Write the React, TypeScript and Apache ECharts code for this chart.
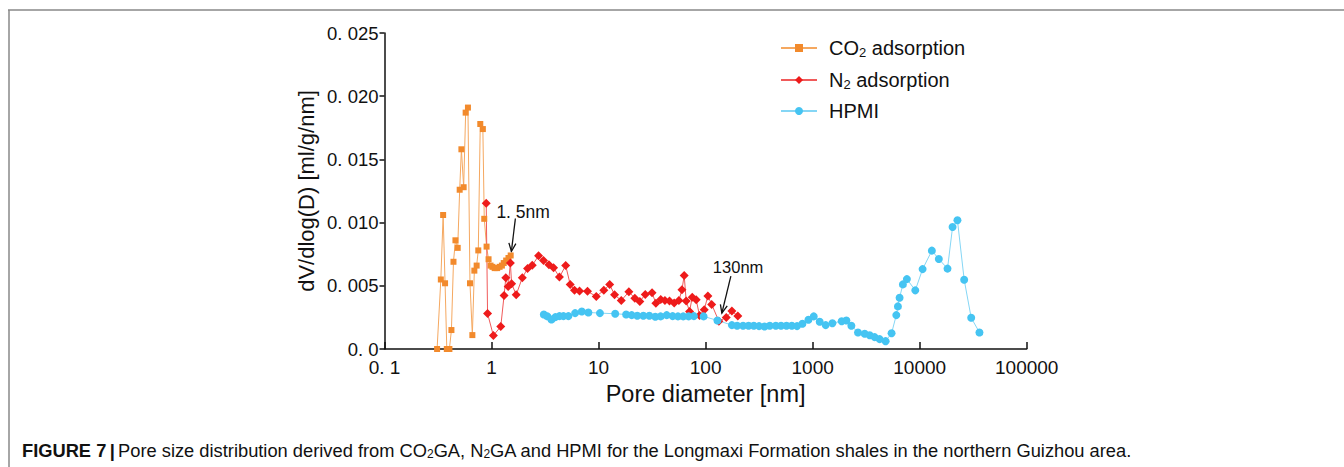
import React, { useEffect, useRef } from "react";
import * as echarts from "echarts";

// CO2 adsorption: pore diameter (nm), dV/dlog(D)
const co2X = [0.31, 0.336, 0.353, 0.368, 0.382, 0.404, 0.422, 0.441, 0.46, 0.483, 0.504, 0.523, 0.549, 0.573, 0.602, 0.629, 0.662, 0.691, 0.726, 0.752, 0.785, 0.83, 0.855, 0.899, 0.938, 0.979, 1.02, 1.07, 1.13, 1.19, 1.25, 1.3, 1.37, 1.44, 1.51];
const co2Y = [0, 0.0055, 0.0106, 0.0052, 0, 0, 0.0015, 0.0069, 0.0086, 0.008, 0.0126, 0.0158, 0.0128, 0.0187, 0.0191, 0.0052, 0.0011, 0.0062, 0.0066, 0.0078, 0.0178, 0.0174, 0.0103, 0.0081, 0.0071, 0.0066, 0.0065, 0.0064, 0.0064, 0.0065, 0.0066, 0.0068, 0.007, 0.0072, 0.0074];

// N2 adsorption
const n2X = [0.892, 0.918, 1.04, 1.22, 1.31, 1.36, 1.43, 1.5, 1.54, 1.7, 1.94, 2.17, 2.4, 2.75, 3.06, 3.44, 3.8, 4.31, 4.93, 5.43, 5.96, 6.64, 7.88, 9.51, 11.2, 12.7, 14.1, 16.3, 19.2, 21.8, 24.3, 27.3, 31.6, 34.3, 38.1, 41.7, 46.0, 50.9, 56.3, 60.1, 63.1, 65.9, 70.8, 75.0, 81.7, 87.7, 97.1, 105, 114, 133, 156, 176, 200];
const n2Y = [0.01153, 0.00281, 0.00107, 0.00178, 0.00424, 0.00564, 0.00495, 0.0068, 0.00517, 0.00429, 0.00564, 0.00636, 0.00662, 0.00737, 0.00701, 0.00667, 0.00643, 0.00569, 0.0066, 0.00511, 0.00464, 0.00458, 0.00456, 0.00416, 0.00464, 0.0051, 0.00429, 0.00384, 0.00452, 0.00402, 0.00375, 0.00432, 0.00445, 0.00361, 0.00392, 0.00384, 0.00379, 0.00363, 0.00384, 0.00468, 0.00582, 0.00379, 0.00297, 0.0041, 0.0039, 0.00265, 0.00311, 0.0042, 0.00353, 0.0022, 0.0025, 0.003, 0.00261];

// HPMI
const hpmiX = [3.08, 3.33, 3.63, 3.95, 4.31, 4.7, 5.23, 6.04, 6.97, 8.03, 10.3, 14.3, 18.1, 20.4, 23.0, 26.2, 29.8, 33.9, 38.0, 43.3, 49.2, 55.2, 61.8, 69.4, 77.8, 95.8, 129, 176, 197, 224, 252, 282, 316, 355, 398, 453, 507, 570, 639, 715, 803, 914, 1024, 1164, 1324, 1530, 1868, 2066, 2301, 2653, 3064, 3411, 3796, 4226, 4805, 5466, 6050, 6264, 6491, 6970, 7597, 9100, 10650, 13000, 15100, 18200, 20300, 22550, 26050, 30300, 36200];
const hpmiY = [0.00273, 0.00258, 0.00234, 0.00252, 0.0026, 0.0026, 0.0026, 0.00284, 0.00297, 0.00289, 0.00284, 0.00279, 0.00273, 0.00268, 0.00263, 0.00263, 0.00263, 0.00255, 0.00258, 0.00268, 0.0026, 0.00258, 0.00258, 0.00258, 0.0026, 0.00258, 0.00226, 0.00189, 0.00184, 0.00184, 0.00184, 0.00184, 0.00181, 0.00178, 0.00184, 0.00184, 0.00184, 0.00184, 0.00184, 0.00181, 0.002, 0.00231, 0.00258, 0.00216, 0.00189, 0.00204, 0.0022, 0.00226, 0.00184, 0.00131, 0.0012, 0.00109, 0.00094, 0.00078, 0.00062, 0.00125, 0.00268, 0.00337, 0.00406, 0.00511, 0.00553, 0.00464, 0.00632, 0.00778, 0.00712, 0.00636, 0.00965, 0.01018, 0.00548, 0.00247, 0.00131];

const xMin = 0.1;
const xMax = 100000;
const yMin = 0;
const yMax = 0.025;
const yStep = 0.005;

const FONT = "'Liberation Sans', Arial, sans-serif";

export default function App() {
  const ref = useRef<HTMLDivElement>(null);
  useEffect(() => {
    const chart = echarts.init(ref.current!, null, { renderer: "svg" });
    const legendFmt = (name: string) => {
      if (name === "CO2 adsorption") return "{n|CO}{s|2}{n| adsorption}";
      if (name === "N2 adsorption") return "{n|N}{s|2}{n| adsorption}";
      return "{n|" + name + "}";
    };
    chart.setOption({
      animation: false,
      backgroundColor: "#fff",
      grid: { left: 384.5, right: 317.3, top: 33, bottom: 118, containLabel: false },
      legend: {
        orient: "vertical",
        left: 775,
        top: 32,
        itemWidth: 36,
        itemHeight: 10,
        itemGap: 10,
        formatter: legendFmt,
        textStyle: {
          fontFamily: FONT,
          color: "#111",
          padding: [0, 0, 0, 7],
          rich: {
            n: { fontSize: 20, fontFamily: FONT, color: "#111", lineHeight: 22 },
            s: { fontSize: 13, fontFamily: FONT, color: "#111", verticalAlign: "bottom", lineHeight: 22, padding: [9, 0, 0, 0] },
          },
        },
      },
      xAxis: {
        type: "log",
        logBase: 10,
        min: xMin,
        max: xMax,
        name: "Pore diameter [nm]",
        nameLocation: "middle",
        nameGap: 31,
        nameTextStyle: { fontFamily: FONT, fontSize: 23.5, color: "#111" },
        axisLine: { lineStyle: { color: "#111", width: 1.5 } },
        axisTick: { inside: true, length: 7, lineStyle: { color: "#111", width: 1.5 } },
        minorTick: { show: false },
        splitLine: { show: false },
        axisLabel: {
          margin: 9,
          fontFamily: FONT,
          fontSize: 19,
          color: "#111",
          formatter: (v: number) => (v < 1 ? "0. 1" : String(Math.round(v))),
        },
      },
      yAxis: {
        type: "value",
        min: yMin,
        max: yMax,
        interval: yStep,
        name: "dV/dlog(D) [ml/g/nm]",
        nameLocation: "middle",
        nameGap: 67,
        nameTextStyle: { fontFamily: FONT, fontSize: 22, color: "#111" },
        axisLine: { show: true, lineStyle: { color: "#111", width: 1.5 } },
        axisTick: { show: true, inside: false, length: 5, lineStyle: { color: "#111", width: 1.5 } },
        splitLine: { show: false },
        axisLabel: {
          margin: 6,
          fontFamily: FONT,
          fontSize: 18.5,
          color: "#111",
          formatter: (v: number) => {
            const k = Math.round(v * 1000);
            return k === 0 ? "0. 0" : "0. " + String(k).padStart(3, "0");
          },
        },
      },
      series: [
        {
          type: "line",
          name: "CO2 adsorption",
          data: co2X.map((x, i) => [x, co2Y[i]]),
          symbol: "rect",
          symbolSize: 6,
          itemStyle: { color: "#F28A2C" },
          lineStyle: { color: "#F5A860", width: 1 },
        },
        {
          type: "line",
          name: "N2 adsorption",
          data: n2X.map((x, i) => [x, n2Y[i]]),
          symbol: "diamond",
          symbolSize: 9,
          itemStyle: { color: "#EE1B1B" },
          lineStyle: { color: "#F05A5A", width: 1 },
        },
        {
          type: "line",
          name: "HPMI",
          data: hpmiX.map((x, i) => [x, hpmiY[i]]),
          symbol: "circle",
          symbolSize: 8,
          itemStyle: { color: "#45C4F2" },
          lineStyle: { color: "#85D6F5", width: 1 },
        },
      ],
    });

    const arrow = (hx: number, hy: number, tx: number, ty: number) => {
      const dx = tx - hx;
      const dy = ty - hy;
      const len = Math.sqrt(dx * dx + dy * dy);
      const ux = dx / len;
      const uy = dy / len;
      const a = 0.4;
      const L = 9;
      const r1 = [hx + L * (ux * Math.cos(a) - uy * Math.sin(a)), hy + L * (ux * Math.sin(a) + uy * Math.cos(a))];
      const r2 = [hx + L * (ux * Math.cos(-a) - uy * Math.sin(-a)), hy + L * (ux * Math.sin(-a) + uy * Math.cos(-a))];
      return [
        { type: "line", shape: { x1: tx, y1: ty, x2: hx, y2: hy }, style: { stroke: "#111", lineWidth: 1.3 }, silent: true },
        { type: "polyline", shape: { points: [r1, [hx, hy], r2] }, style: { stroke: "#111", lineWidth: 1.3, fill: null }, silent: true },
      ];
    };

    const p1 = chart.convertToPixel({ gridIndex: 0 }, [1.5, 0.0074]) as number[];
    const p2 = chart.convertToPixel({ gridIndex: 0 }, [133, 0.0022]) as number[];

    chart.setOption({
      graphic: [
        { type: "line", shape: { x1: 8, y1: 10, x2: 1344, y2: 10 }, style: { stroke: "#888", lineWidth: 1.5 }, silent: true },
        { type: "line", shape: { x1: 9, y1: 10, x2: 9, y2: 467 }, style: { stroke: "#888", lineWidth: 1.5 }, silent: true },
        ...arrow(p1[0] + 1, p1[1] - 4, p1[0] + 5, p1[1] - 37),
        {
          type: "text",
          x: p1[0] - 14,
          y: p1[1] - 43,
          style: { text: "1. 5nm", fontFamily: FONT, fontSize: 17.5, fill: "#111", textVerticalAlign: "middle" },
          silent: true,
        },
        ...arrow(p2[0] + 3, p2[1] - 8, p2[0] + 12, p2[1] - 45),
        {
          type: "text",
          x: p2[0] - 6,
          y: p2[1] - 54,
          style: { text: "130nm", fontFamily: FONT, fontSize: 16.5, fill: "#111", textVerticalAlign: "middle" },
          silent: true,
        },
        {
          type: "text",
          x: 22,
          y: 450,
          style: {
            text: "{b|FIGURE 7} {b||} {r|Pore size distribution derived from CO}{s|2}{r|GA, N}{s|2}{r|GA and HPMI for the Longmaxi Formation shales in the northern Guizhou area.}",
            textVerticalAlign: "middle",
            rich: {
              b: { fontFamily: FONT, fontSize: 18.3, fontWeight: "bold", fill: "#111", lineHeight: 22 },
              r: { fontFamily: FONT, fontSize: 18.3, fill: "#111", lineHeight: 22 },
              s: { fontFamily: FONT, fontSize: 12, fill: "#111", lineHeight: 22, padding: [8, 0, 0, 0] },
            },
          },
          silent: true,
        },
      ],
    });
    return () => chart.dispose();
  }, []);
  return (
    <div
      ref={ref}
      style={{ position: "fixed", left: 0, top: 0, width: 1344, height: 467, background: "#fff" }}
    />
  );
}
